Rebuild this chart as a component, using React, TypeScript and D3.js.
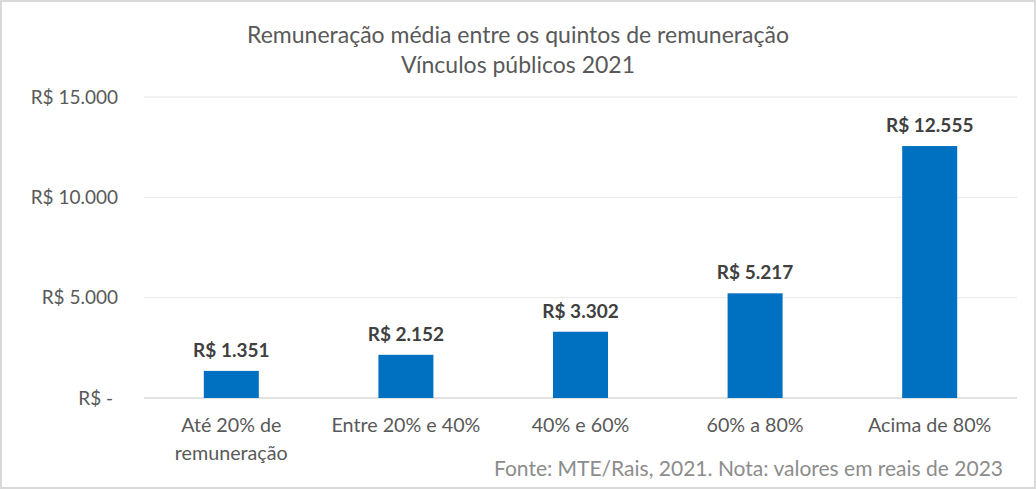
import React from 'react';
import * as d3 from 'd3';

const categories = [['Até 20% de', 'remuneração'], ['Entre 20% e 40%'], ['40% e 60%'], ['60% a 80%'], ['Acima de 80%']];
const values = [1351, 2152, 3302, 5217, 12555];
const yTicks = [0, 5000, 10000, 15000];
const titleLines = ['Remuneração média entre os quintos de remuneração', 'Vínculos públicos 2021'];
const footnote = 'Fonte: MTE/Rais, 2021. Nota: valores em reais de 2023';

const width = 1036;
const height = 489;
const margin = {top: 97, right: 19, bottom: 91, left: 144};
const font = 'Lato, "Noto Sans", sans-serif';

const fmt = (v: number) => {
  if (v === 0) return 'R$ - ';
  return 'R$ ' + d3.format(',')(v).replace(/,/g, '.');
};

export default function App() {
  const x = d3.scaleBand<number>()
    .domain(values.map((_, i) => i))
    .range([margin.left, width - margin.right])
    .padding(0);
  const y = d3.scaleLinear()
    .domain([0, 15000])
    .range([height - margin.bottom, margin.top]);
  const barW = x.bandwidth() * 0.315;

  return (
    <svg width={width} height={height} style={{position: 'absolute', left: 0, top: 0, background: '#fff'}}
         fontFamily={font}>
      <rect x={1} y={1} width={width - 2} height={height - 2} fill="#fff" stroke="#d9d9d9" strokeWidth={2}/>
      {titleLines.map((t, i) => (
        <text key={t} x={width / 2} y={43 + i * 30} textAnchor="middle" fontSize={23} fill="#595959">{t}</text>
      ))}
      {yTicks.map(t => (
        <g key={t}>
          <line x1={margin.left} x2={width - margin.right} y1={y(t)} y2={y(t)}
                stroke={t === 0 ? '#d9d9d9' : '#ececec'} strokeWidth={1.3}/>
          <text x={118} y={y(t)} dy="0.35em" textAnchor="end" fontSize={19} fill="#595959"
                style={{whiteSpace: 'pre'}}>{fmt(t)}</text>
        </g>
      ))}
      {values.map((v, i) => {
        const cx = (x(i) as number) + x.bandwidth() / 2;
        return (
          <g key={i}>
            <rect x={cx - barW / 2} y={y(v)} width={barW} height={y(0) - y(v)} fill="#0070c0"/>
            <text x={cx} y={y(v) - 14} textAnchor="middle" fontSize={19} fontWeight="bold" fill="#404040">{fmt(v)}</text>
            {categories[i].map((line, j) => (
              <text key={j} x={cx} y={y(0) + 34 + j * 28} textAnchor="middle" fontSize={19.7} fill="#595959">{line}</text>
            ))}
          </g>
        );
      })}
      <text x={1003} y={476} textAnchor="end" fontSize={21} fill="#8c8c8c">{footnote}</text>
    </svg>
  );
}
